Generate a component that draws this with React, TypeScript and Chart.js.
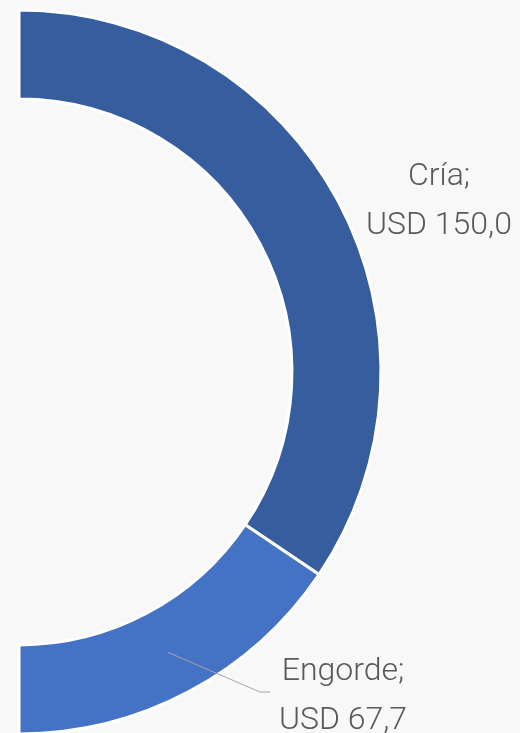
import React, { useEffect, useRef } from 'react';
import { Chart, registerables } from 'chart.js';

Chart.register(...registerables);

// ---- data ----
const categories: string[] = ['Cría', 'Engorde'];
const values: number[] = [150.0, 67.7];
const valueLabels: string[] = ['USD 150,0', 'USD 67,7'];

// ---- styles ----
const sliceColors = ['#365E9F', '#4472C4'];
const textColor = '#595959';
const leaderColor = '#A6A6A6';
// label placement relative to the doughnut centre (px), not data
const labelLayout = [
  { dx: 420, dy: -187, leader: false, lx: 0, ly: 0 },
  { dx: 324, dy: 308, leader: true, lx: 241, ly: 320 },
];

export default function App() {
  const ref = useRef<HTMLCanvasElement | null>(null);

  useEffect(() => {
    document.body.style.margin = '0';
    document.body.style.overflow = 'hidden';
    document.body.style.background = '#F8F8F8';
    document.documentElement.style.overflow = 'hidden';

    const labelPlugin = {
      id: 'sliceLabels',
      afterDatasetsDraw(chart: any) {
        const ctx = chart.ctx as CanvasRenderingContext2D;
        const meta = chart.getDatasetMeta(0);
        meta.data.forEach((arc: any, i: number) => {
          const p = arc.getProps(['x', 'y', 'startAngle', 'endAngle', 'innerRadius', 'outerRadius'], true);
          const lay = labelLayout[i];
          const tx = p.x + lay.dx;
          const ty = p.y + lay.dy;
          ctx.save();
          if (lay.leader) {
            const mid = (p.startAngle + p.endAngle) / 2;
            const mr = (p.innerRadius + p.outerRadius) / 2;
            const sx = p.x + Math.cos(mid) * mr;
            const sy = p.y + Math.sin(mid) * mr;
            ctx.strokeStyle = leaderColor;
            ctx.lineWidth = 1;
            ctx.beginPath();
            ctx.moveTo(sx, sy);
            ctx.lineTo(p.x + lay.lx, p.y + lay.ly);
            ctx.lineTo(p.x + lay.lx + 10, p.y + lay.ly);
            ctx.stroke();
          }
          ctx.fillStyle = textColor;
          ctx.font = '300 32px Roboto, "Noto Sans", sans-serif';
          ctx.textAlign = 'center';
          ctx.textBaseline = 'alphabetic';
          ctx.fillText(categories[i] + ';', tx, ty);
          ctx.fillText(valueLabels[i], tx, ty + 49);
          ctx.restore();
        });
      },
    };

    const chart = new Chart(ref.current as HTMLCanvasElement, {
      type: 'doughnut',
      data: {
        labels: categories,
        datasets: [
          {
            data: values,
            backgroundColor: sliceColors,
            borderColor: '#FFFFFF',
            borderWidth: 3,
          },
        ],
      },
      options: {
        animation: false,
        responsive: false,
        rotation: 0,
        circumference: 180,
        cutout: '75.4%',
        layout: { padding: { left: 17.5, right: 137.5, top: 8.5, bottom: 4.5 } },
        plugins: {
          legend: { display: false },
          tooltip: { enabled: false },
        },
      },
      plugins: [labelPlugin],
    });
    return () => chart.destroy();
  }, []);

  return (
    <div style={{ width: 520, height: 740, background: '#F8F8F8' }}>
      <canvas ref={ref} width={520} height={740} style={{ display: 'block' }} />
    </div>
  );
}
